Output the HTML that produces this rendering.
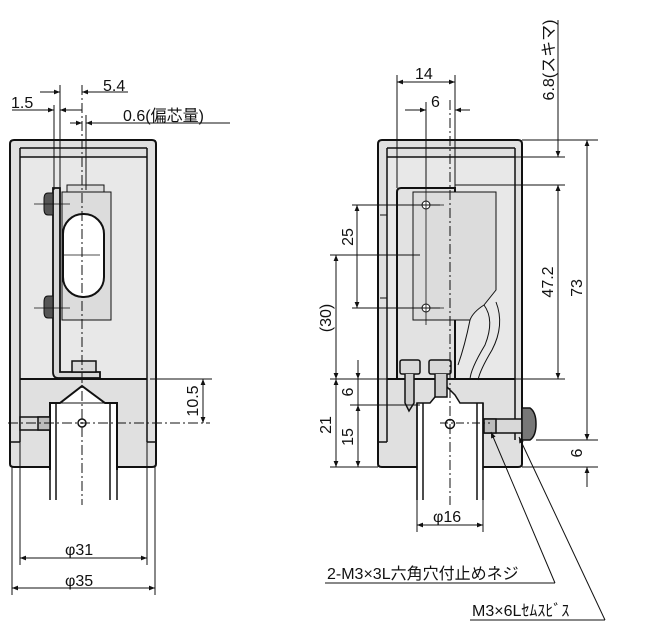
<!DOCTYPE html>
<html><head><meta charset="utf-8"><style>
html,body{margin:0;padding:0;background:#fff;}
svg{display:block;}
text{font-family:"Liberation Sans","Noto Sans CJK JP",sans-serif;font-size:16px;fill:#111;}
</style></head><body>
<svg width="657" height="629" viewBox="0 0 657 629" xmlns="http://www.w3.org/2000/svg">
<defs>
<marker id="a" viewBox="0 0 10 10" refX="10" refY="5" markerWidth="9" markerHeight="6" orient="auto-start-reverse" markerUnits="userSpaceOnUse"><path d="M0,1 L10,5 L0,9 z" fill="#111"/></marker>
</defs>
<g stroke="#111" fill="none" stroke-width="1">
<path d="M14,140 H152 Q156,140 156,144 V464 Q156,467 152,467 H14 Q10,467 10,464 V144 Q10,140 14,140 Z" fill="#e0e0e0" stroke-width="2"/>
<rect x="20" y="157" width="127" height="222" fill="#e8e8e8" stroke="none"/>
<line x1="20" y1="148" x2="147" y2="148" stroke-width="1.5"/>
<line x1="20" y1="157" x2="147" y2="157" stroke-width="1.5"/>
<line x1="20" y1="148" x2="20" y2="442" stroke-width="1.5"/>
<line x1="147" y1="148" x2="147" y2="442" stroke-width="1.5"/>
<line x1="11" y1="442" x2="20" y2="442" stroke-width="1.5"/>
<line x1="147" y1="442" x2="155" y2="442" stroke-width="1.5"/>
<line x1="20" y1="379" x2="147" y2="379" stroke-width="2"/>
<rect x="67" y="185" width="37" height="7" fill="#dcdcdc"/>
<rect x="62" y="192" width="49" height="128" fill="#dcdcdc"/>
<rect x="63" y="214" width="41" height="83" rx="20" fill="#fff" stroke-width="2"/>
<path d="M53,188 H60 V372 H100 V378 H58 Q53,378 53,372 Z" fill="#d8d8d8" stroke-width="1.8"/>
<rect x="72" y="361" width="24" height="11" fill="#d8d8d8" stroke-width="1.5"/>
<path d="M53,193 H48 Q44,193 44,199 V209 Q44,215 48,215 H53 Z" fill="#555" stroke-width="1"/>
<path d="M53,296 H48 Q44,296 44,302 V312 Q44,318 48,318 H53 Z" fill="#555" stroke-width="1"/>
<line x1="34" y1="204" x2="70" y2="204" stroke-width=".8"/>
<line x1="34" y1="308" x2="70" y2="308" stroke-width=".8"/>
<line x1="64" y1="255" x2="100" y2="255" stroke-width=".8"/>
<rect x="50" y="403" width="67" height="70" fill="#fff" stroke="none"/>
<polyline points="50,470 50,403 60,403 82,386 105,403 117,403 117,470" stroke-width="2" fill="#fff"/>
<line x1="60" y1="403" x2="105" y2="403"/>
<line x1="50" y1="403" x2="50" y2="500" stroke-width="1.5"/><line x1="56" y1="403" x2="56" y2="500" stroke-width="1.5"/>
<line x1="110" y1="403" x2="110" y2="500" stroke-width="1.5"/><line x1="117" y1="403" x2="117" y2="500" stroke-width="1.5"/>
<rect x="20" y="417" width="30" height="13" fill="#d8d8d8" stroke-width="1.5"/>
<rect x="38" y="417" width="12" height="13" fill="#bbb" stroke-width="1.5"/>
<circle cx="82" cy="423" r="4" stroke-width="1.5" fill="#fff"/>
<line x1="8" y1="423" x2="210" y2="423" stroke-dasharray="10,3,2,3"/>
<line x1="82" y1="85" x2="82" y2="505" stroke-dasharray="10,3,2,3"/>
<line x1="60" y1="85" x2="60" y2="190"/><line x1="54" y1="105" x2="54" y2="190"/><line x1="86" y1="115" x2="86" y2="190"/>
<line x1="40" y1="92" x2="60" y2="92" marker-end="url(#a)"/><line x1="128" y1="92" x2="82" y2="92" marker-end="url(#a)"/>
<line x1="12" y1="110" x2="54" y2="110" marker-end="url(#a)"/><line x1="82" y1="110" x2="60" y2="110" marker-end="url(#a)"/>
<line x1="70" y1="123" x2="82" y2="123" marker-end="url(#a)"/><line x1="230" y1="123" x2="86" y2="123" marker-end="url(#a)"/>
<line x1="150" y1="379" x2="212" y2="379"/>
<line x1="203" y1="379" x2="203" y2="423" marker-start="url(#a)" marker-end="url(#a)"/>
<line x1="12" y1="467" x2="12" y2="595"/><line x1="155" y1="467" x2="155" y2="595"/>
<line x1="20" y1="442" x2="20" y2="565"/><line x1="147" y1="442" x2="147" y2="565"/>
<line x1="20" y1="558" x2="147" y2="558" marker-start="url(#a)" marker-end="url(#a)"/>
<line x1="12" y1="588" x2="155" y2="588" marker-start="url(#a)" marker-end="url(#a)"/>

<path d="M382,140 H518 Q522,140 522,144 V464 Q522,467 518,467 H382 Q378,467 378,464 V144 Q378,140 382,140 Z" fill="#e0e0e0" stroke-width="2"/>
<rect x="387" y="157" width="128" height="222" fill="#e8e8e8" stroke="none"/>
<line x1="387" y1="148" x2="515" y2="148" stroke-width="1.5"/>
<line x1="387" y1="157" x2="515" y2="157" stroke-width="1.5"/>
<line x1="387" y1="148" x2="387" y2="442" stroke-width="1.5"/>
<line x1="515" y1="148" x2="515" y2="440" stroke-width="1.5"/>
<line x1="380" y1="215" x2="387" y2="215"/><line x1="380" y1="298" x2="387" y2="298"/>
<line x1="379" y1="442" x2="387" y2="442" stroke-width="1.5"/>
<line x1="387" y1="379" x2="515" y2="379" stroke-width="2"/>
<path d="M401,188 H455 V379 H397 V192 Q397,188 401,188 Z" fill="#e2e2e2" stroke-width="2"/>
<path d="M413,192 H496 V290 L484,305 Q473,312 470,320 H413 Z" fill="#dcdcdc"/>
<path d="M484,305 Q495,320 485,345 Q470,370 470,380"/>
<path d="M496,302 Q505,325 492,350 Q480,370 478,380"/>
<path d="M470,320 Q465,345 458,365"/>
<circle cx="426" cy="205" r="4" fill="#fff"/><circle cx="426" cy="308" r="4" fill="#fff"/>
<line x1="410" y1="205" x2="444" y2="205" stroke-width=".8"/><line x1="410" y1="308" x2="444" y2="308" stroke-width=".8"/>
<line x1="426" y1="188" x2="426" y2="325" stroke-width=".8"/>
<rect x="417" y="403" width="66" height="70" fill="#fff" stroke="none"/>
<polyline points="417,470 417,403 430,403 445,385 455,395 460,403 483,403 483,470" fill="#fff" stroke-width="1.5"/>
<line x1="417" y1="403" x2="417" y2="500" stroke-width="1.5"/><line x1="423" y1="403" x2="423" y2="500" stroke-width="1.5"/>
<line x1="477" y1="403" x2="477" y2="500" stroke-width="1.5"/><line x1="483" y1="403" x2="483" y2="500" stroke-width="1.5"/>
<rect x="400" y="360" width="20" height="14" rx="2" fill="#d8d8d8" stroke-width="1.5"/>
<rect x="429" y="360" width="22" height="14" rx="2" fill="#d8d8d8" stroke-width="1.5"/>
<path d="M405,374 V403 L409,411 L414,403 V374" fill="#ccc" stroke-width="1.5"/>
<path d="M435,374 V397 H447 V374" fill="#ccc" stroke-width="1.5"/>
<circle cx="450" cy="424" r="4.5" fill="#fff" stroke-width="1.5"/>
<rect x="484" y="419" width="38" height="14" fill="#d8d8d8" stroke-width="1.5"/>
<rect x="484" y="419" width="12" height="14" fill="#bbb" stroke-width="1.5"/>
<path d="M522,408 H530 Q536,412 536,424 Q536,436 530,440 H522 Z" fill="#777" stroke-width="1.5"/>
<line x1="440" y1="423" x2="490" y2="423" stroke-dasharray="8,3,2,3"/>
<line x1="450" y1="100" x2="450" y2="505" stroke-dasharray="10,3,2,3"/>
<line x1="397" y1="75" x2="397" y2="188"/><line x1="455" y1="75" x2="455" y2="188"/>
<line x1="397" y1="82" x2="455" y2="82" marker-start="url(#a)" marker-end="url(#a)"/>
<line x1="405" y1="110" x2="426" y2="110" marker-end="url(#a)"/><line x1="470" y1="110" x2="455" y2="110" marker-end="url(#a)"/>
<line x1="426" y1="102" x2="426" y2="188"/>
<line x1="522" y1="140" x2="598" y2="140"/><line x1="515" y1="157" x2="565" y2="157"/><line x1="455" y1="185" x2="565" y2="185"/>
<line x1="455" y1="379" x2="565" y2="379"/>
<line x1="558" y1="20" x2="558" y2="157"/>
<line x1="558" y1="140" x2="558" y2="157" marker-end="url(#a)"/>
<line x1="558" y1="205" x2="558" y2="185" marker-end="url(#a)"/>
<line x1="558" y1="185" x2="558" y2="379" marker-start="url(#a)" marker-end="url(#a)"/>
<line x1="587" y1="140" x2="587" y2="440" marker-start="url(#a)" marker-end="url(#a)"/>
<line x1="536" y1="440" x2="598" y2="440"/><line x1="522" y1="467" x2="598" y2="467"/>
<line x1="587" y1="420" x2="587" y2="440" marker-end="url(#a)"/>
<line x1="587" y1="487" x2="587" y2="467" marker-end="url(#a)"/>
<line x1="352" y1="205" x2="440" y2="205"/><line x1="352" y1="308" x2="440" y2="308"/>
<line x1="330" y1="255" x2="420" y2="255"/>
<line x1="357" y1="205" x2="357" y2="308" marker-start="url(#a)" marker-end="url(#a)"/>
<line x1="336" y1="255" x2="336" y2="379" marker-start="url(#a)" marker-end="url(#a)"/>
<line x1="330" y1="379" x2="400" y2="379"/><line x1="350" y1="405" x2="420" y2="405"/>
<line x1="330" y1="467" x2="378" y2="467"/>
<line x1="358" y1="360" x2="358" y2="379" marker-end="url(#a)"/>
<line x1="358" y1="379" x2="358" y2="405"/>
<line x1="358" y1="405" x2="358" y2="467" marker-start="url(#a)" marker-end="url(#a)"/>
<line x1="336" y1="379" x2="336" y2="467" marker-start="url(#a)" marker-end="url(#a)"/>
<line x1="417" y1="500" x2="417" y2="532"/><line x1="483" y1="500" x2="483" y2="532"/>
<line x1="417" y1="525" x2="483" y2="525" marker-start="url(#a)" marker-end="url(#a)"/>
<line x1="325" y1="583" x2="555" y2="583"/>
<line x1="555" y1="583" x2="491" y2="432" marker-end="url(#a)"/>
<line x1="470" y1="620" x2="605" y2="620"/>
<line x1="605" y1="620" x2="519" y2="437" marker-end="url(#a)"/>
</g>
<g>
<text x="103" y="91">5.4</text>
<text x="11" y="108">1.5</text>
<text x="123" y="121">0.6(偏芯量)</text>
<text transform="translate(198,401) rotate(-90)" text-anchor="middle">10.5</text>
<text x="65" y="555">φ31</text>
<text x="65" y="586">φ35</text>
<text x="415" y="79">14</text>
<text x="431" y="107">6</text>
<text transform="translate(554,60) rotate(-90)" text-anchor="middle">6.8(スキマ)</text>
<text transform="translate(553,282) rotate(-90)" text-anchor="middle">47.2</text>
<text transform="translate(582,288) rotate(-90)" text-anchor="middle">73</text>
<text transform="translate(582,453) rotate(-90)" text-anchor="middle">6</text>
<text transform="translate(353,237) rotate(-90)" text-anchor="middle">25</text>
<text transform="translate(331,318) rotate(-90)" text-anchor="middle">(30)</text>
<text transform="translate(353,392) rotate(-90)" text-anchor="middle">6</text>
<text transform="translate(331,425) rotate(-90)" text-anchor="middle">21</text>
<text transform="translate(353,437) rotate(-90)" text-anchor="middle">15</text>
<text x="433" y="522">φ16</text>
<text x="327" y="579">2-M3×3L六角穴付止めネジ</text>
<text x="472" y="616">M3×6Lｾﾑｽﾋﾞｽ</text>
</g>
</svg>
</body></html>
